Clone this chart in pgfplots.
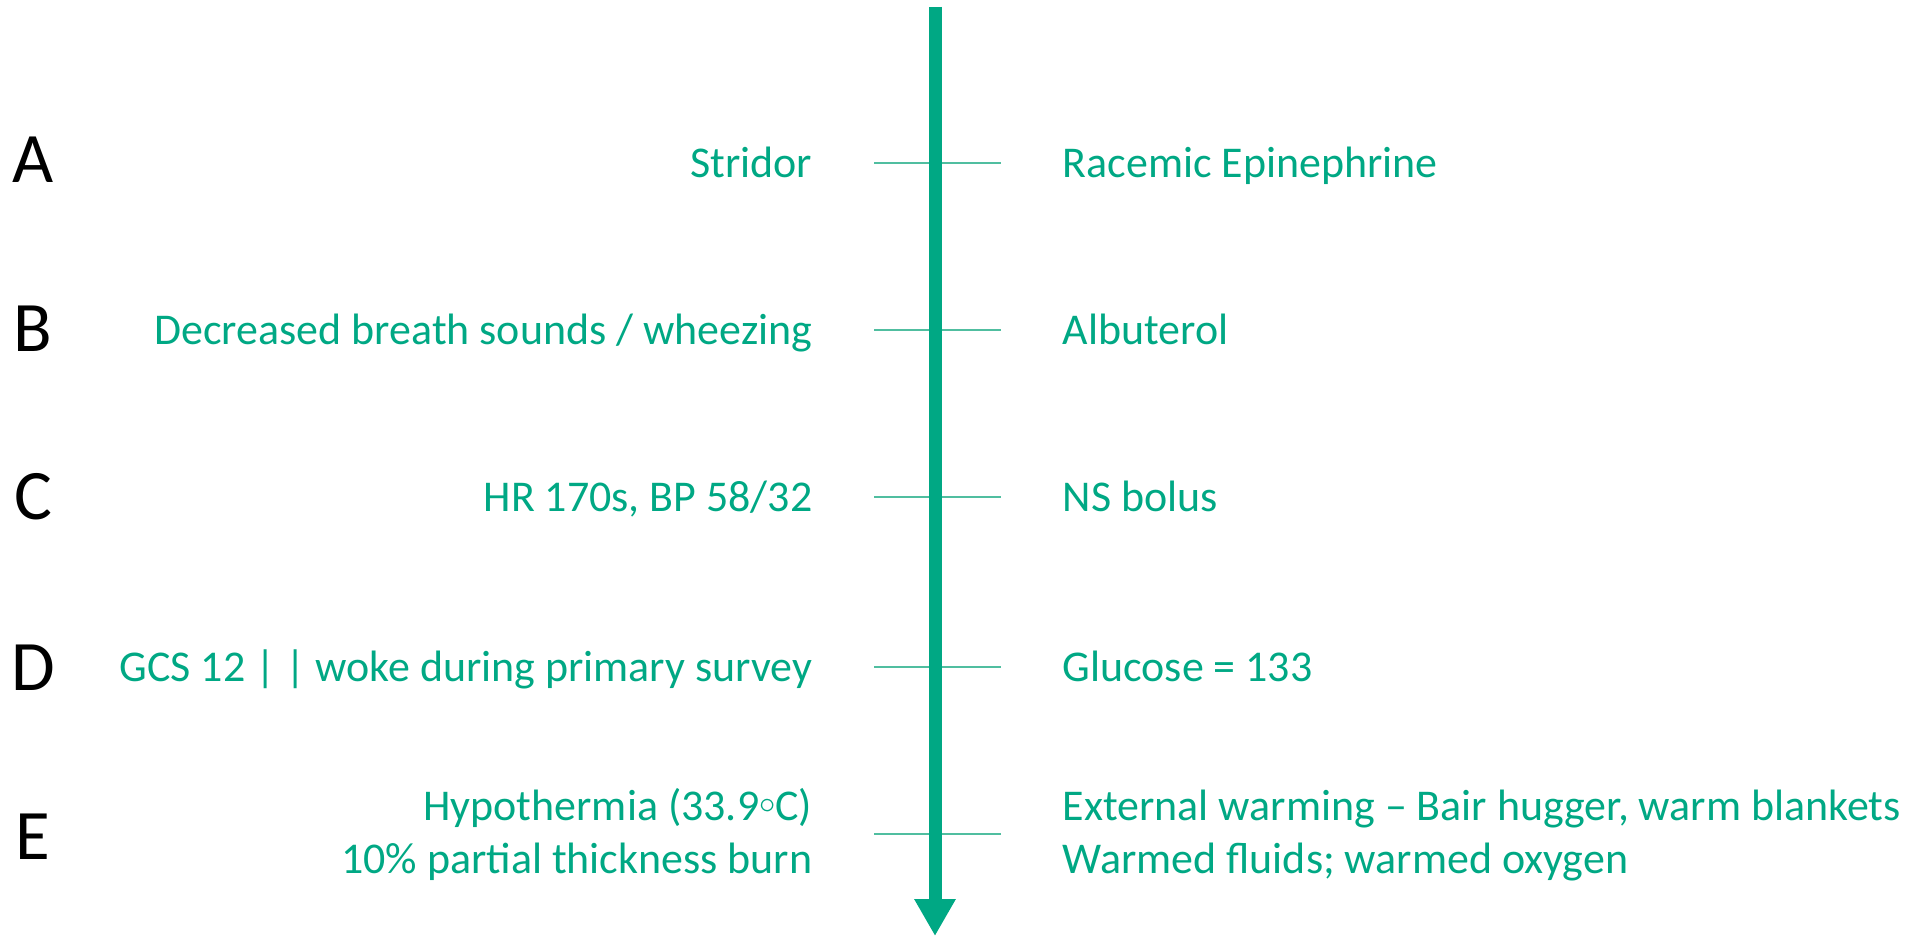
\documentclass[border=0pt]{standalone}
\usepackage{pgfplots}
\pgfplotsset{compat=1.18}
\usetikzlibrary{arrows.meta}
\usepackage{fontspec}
\setmainfont{Carlito}
\definecolor{teal1}{RGB}{0,168,132}
\definecolor{tick1}{RGB}{80,190,160}
\begin{document}
\begin{tikzpicture}
\begin{axis}[
  scale only axis, width=192.5mm, height=93.8mm,
  xmin=0, xmax=1925, ymin=0, ymax=938, y dir=reverse,
  hide axis, clip=false,
]
% invisible frame to fix the picture size
\addplot[draw=none] coordinates {(0,0) (1925,938)};
% tick lines
\addplot[tick1, line width=0.15mm] coordinates {(874,163) (1001,163)};
\addplot[tick1, line width=0.15mm] coordinates {(874,330) (1001,330)};
\addplot[tick1, line width=0.15mm] coordinates {(874,497) (1001,497)};
\addplot[tick1, line width=0.15mm] coordinates {(874,667) (1001,667)};
\addplot[tick1, line width=0.15mm] coordinates {(874,834) (1001,834)};
% main arrow
\addplot[teal1, line width=1.3mm, -{Triangle[width=3.9mm,length=3.7mm]}] coordinates {(935,7) (935,936)};
% letters
\tikzset{letter/.style={anchor=base, font=\fontsize{20.2pt}{24pt}\selectfont, text=black, inner sep=0pt}}
\node[letter] at (axis cs:33,183) {A};
\node[letter] at (axis cs:33,352) {B};
\node[letter] at (axis cs:33,519) {C};
\node[letter] at (axis cs:33,690) {D};
\node[letter] at (axis cs:33,859) {E};
% left texts
\tikzset{lt/.style={anchor=base east, font=\fontsize{12.5pt}{15pt}\selectfont, text=teal1, inner sep=0pt}}
\tikzset{rt/.style={anchor=base west, font=\fontsize{12.5pt}{15pt}\selectfont, text=teal1, inner sep=0pt}}
\node[lt] at (axis cs:813,178) {Stridor};
\node[lt] at (axis cs:813,345) {Decreased breath sounds / wheezing};
\node[lt] at (axis cs:813,512) {HR 170s, BP 58/32};
\node[lt] at (axis cs:813,681) {GCS 12 | | woke during primary survey};
\node[lt] at (axis cs:813,820) {Hypothermia (33.9\raisebox{0.3ex}{\ensuremath{\scriptstyle\circ}}C)};
\node[lt] at (axis cs:813,873) {10\% partial thickness burn};
% right texts
\node[rt] at (axis cs:1062,178) {Racemic Epinephrine};
\node[rt] at (axis cs:1062,345) {Albuterol};
\node[rt] at (axis cs:1062,512) {NS bolus};
\node[rt] at (axis cs:1062,681) {Glucose = 133};
\node[rt] at (axis cs:1062,820) {External warming – Bair hugger, warm blankets};
\node[rt] at (axis cs:1062,873) {Warmed fluids; warmed oxygen};
\end{axis}
\pgfresetboundingbox
\path (current axis.south west) rectangle (current axis.north east);
\end{tikzpicture}
\end{document}
